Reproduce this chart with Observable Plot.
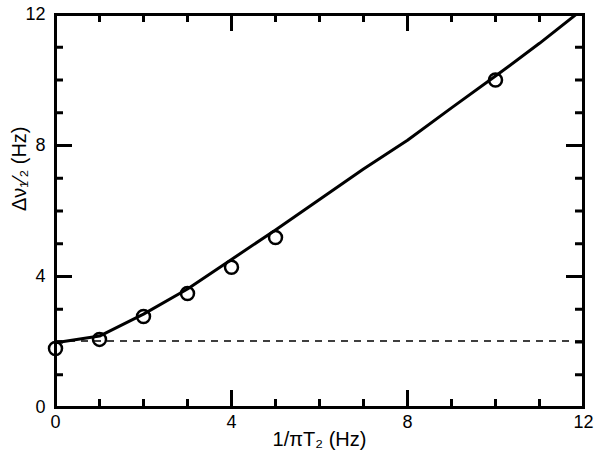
<!DOCTYPE html>
<html>
<head>
<meta charset="utf-8">
<script src="https://cdn.jsdelivr.net/npm/d3@7"></script>
<script src="https://cdn.jsdelivr.net/npm/@observablehq/plot@0.6"></script>
<style>
  body { margin: 0; }
</style>
</head>
<body>
<div id="chart"></div>
<script>
// Measured points (open circles)
const pointX = [0, 1, 2, 3, 4, 5, 10];
const pointY = [1.8, 2.08, 2.78, 3.48, 4.28, 5.19, 10.0];
// Fitted curve
const fitX = [0, 1, 2, 3, 4, 5, 6, 7, 8, 9, 10, 11, 12];
const fitY = [1.98, 2.18, 2.85, 3.62, 4.52, 5.42, 6.35, 7.28, 8.16, 9.15, 10.12, 11.12, 12.18];
// Dashed reference level
const refLevel = [2.03];
// Ticks
const majorTicks = [0, 4, 8, 12];
const minorTicks = [1, 2, 3, 5, 6, 7, 9, 10, 11];
const xLabel = ["1/πT₂ (Hz)"];
const yLabel = ["Δν₁⁄₂ (Hz)"];

const W = 528, H = 393, majLen = 17, minLen = 8;
const tickStyle = {stroke: "#000", strokeWidth: 3};

const pointRows = pointX.map((x, i) => ({x, y: pointY[i]}));
const fitRows = fitX.map((x, i) => ({x, y: fitY[i]}));

const chart = Plot.plot({
  width: 600, height: 459,
  marginLeft: 55, marginRight: 17, marginTop: 14, marginBottom: 52,
  x: {domain: [0, 12]},
  y: {domain: [0, 12]},
  style: {fontFamily: "Liberation Sans, Arial, sans-serif", fontSize: "18px"},
  marks: [
    Plot.ruleX(majorTicks, {x: d => d, insetTop: H - majLen, ...tickStyle}),
    Plot.ruleX(minorTicks, {x: d => d, insetTop: H - minLen, ...tickStyle}),
    Plot.ruleX(majorTicks, {x: d => d, insetBottom: H - majLen, ...tickStyle}),
    Plot.ruleX(minorTicks, {x: d => d, insetBottom: H - minLen, ...tickStyle}),
    Plot.ruleY(majorTicks, {y: d => d, insetRight: W - majLen, ...tickStyle}),
    Plot.ruleY(minorTicks, {y: d => d, insetRight: W - minLen, ...tickStyle}),
    Plot.ruleY(majorTicks, {y: d => d, insetLeft: W - majLen, ...tickStyle}),
    Plot.ruleY(minorTicks, {y: d => d, insetLeft: W - minLen, ...tickStyle}),
    Plot.ruleY(refLevel, {stroke: "#000", strokeWidth: 1.5, strokeDasharray: "7,6"}),
    Plot.line(fitRows, {x: "x", y: "y", stroke: "#000", strokeWidth: 3, clip: true}),
    Plot.dot(pointRows, {x: "x", y: "y", r: 6.5, stroke: "#000", strokeWidth: 2.5, fill: "none"}),
    Plot.axisX(majorTicks, {tickSize: 0, tickPadding: 8, fontSize: 18, label: null}),
    Plot.axisY(majorTicks, {tickSize: 0, tickPadding: 10, fontSize: 18, label: null}),
    Plot.frame({stroke: "#000", strokeWidth: 3}),
    Plot.text(xLabel, {frameAnchor: "bottom", dy: 38, fontSize: 20, fill: "#000"}),
    Plot.text(yLabel, {frameAnchor: "left", dx: -36, rotate: -90, fontSize: 20, fill: "#000"})
  ]
});

document.getElementById("chart").appendChild(chart);
</script>
</body>
</html>
